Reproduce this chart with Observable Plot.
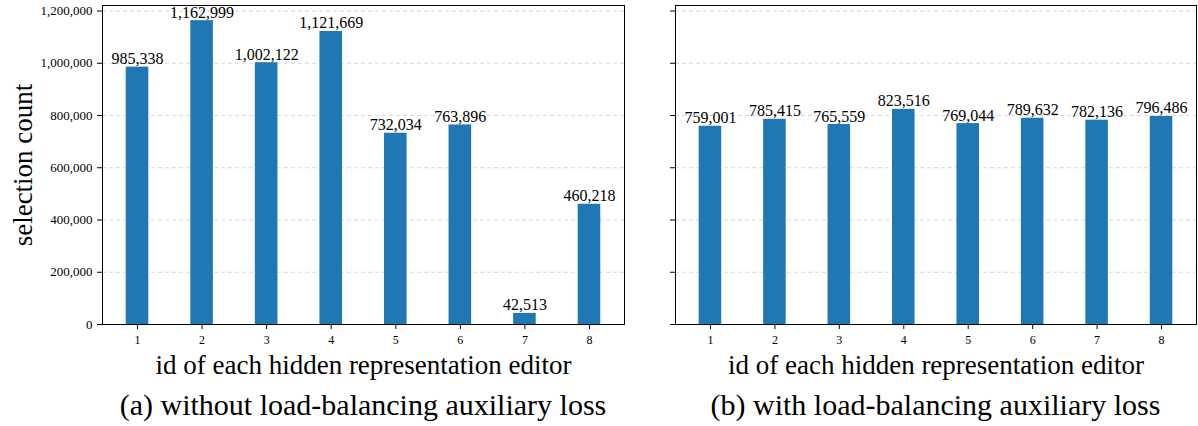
<!DOCTYPE html>
<html><head><meta charset="utf-8">
<script src="https://cdn.jsdelivr.net/npm/d3@7"></script>
<script src="https://cdn.jsdelivr.net/npm/@observablehq/plot@0.6"></script>
<style>
body{margin:0;background:#fff;}
#wrap{position:relative;width:1198px;height:426px;font-family:"Liberation Serif","Times New Roman",serif;overflow:hidden;}
.panel{position:absolute;top:0;}
.cap{position:absolute;top:390px;width:600px;font-size:30px;line-height:30px;text-align:center;white-space:nowrap;color:#000;}
</style></head><body>
<div id="wrap"></div>
<script>
const ids = [1, 2, 3, 4, 5, 6, 7, 8];
const countsWithout = [985338, 1162999, 1002122, 1121669, 732034, 763896, 42513, 460218];
const countsWith = [759001, 785415, 765559, 823516, 769044, 789632, 782136, 796486];
const yTicks = [0, 200000, 400000, 600000, 800000, 1000000, 1200000];
const xLabel = "id of each hidden representation editor";
const yLabel = "selection count";
const captions = ["(a) without load-balancing auxiliary loss", "(b) with load-balancing auxiliary loss"];

const fmt = d3.format(",");
const barHalf = 0.175;
const xPad = (8 + barHalf - (1 - barHalf)) * 0.05;
const xDomain = [1 - barHalf - xPad, 8 + barHalf + xPad];
const yMax = d3.max([...countsWithout, ...countsWith]) * 1.05;

function panel(values, {width, marginLeft, marginRight, showY}) {
  const data = ids.map((id, i) => ({id, count: values[i]}));
  const svg = Plot.plot({
    width, height: 380,
    marginTop: 5, marginBottom: 56, marginLeft, marginRight,
    style: {fontFamily: "'Liberation Serif','Times New Roman',serif", fontSize: "13px", color: "#000", background: "transparent", overflow: "visible"},
    x: {domain: xDomain},
    y: {domain: [0, yMax]},
    marks: [
      Plot.gridY(yTicks, {stroke: "#b8b8b8", strokeOpacity: 0.55, strokeDasharray: "4,3"}),
      Plot.rectY(data, {x1: d => d.id - barHalf, x2: d => d.id + barHalf, y1: 0, y2: "count", fill: "#1f77b4"}),
      Plot.text(data, {x: "id", y: "count", text: d => fmt(d.count), lineAnchor: "bottom", dy: -3, fontSize: 16, fill: "#000"}),
      Plot.axisX(ids, {tickSize: 5, tickPadding: 6, fontSize: 12, label: xLabel, labelAnchor: "center", labelArrow: "none", labelOffset: 49}),
      Plot.axisY(yTicks, {tickSize: 5, tickPadding: 5, fontSize: 13,
        tickFormat: showY ? fmt : () => "",
        label: showY ? yLabel : null, labelAnchor: "center", labelArrow: "none", labelOffset: 90}),
      Plot.frame({stroke: "#000", strokeOpacity: 1})
    ]
  });
  const s = d3.select(svg);
  s.selectAll('g[aria-label="x-axis label"] text').attr("font-size", 27);
  s.select('g[aria-label="x-axis label"]').attr("font-size", 27);
  s.select('g[aria-label="y-axis label"]').attr("font-size", 27);
  s.selectAll('g[aria-label="y-axis label"] text').attr("font-size", 27);
  return svg;
}

const wrap = document.getElementById("wrap");
const left = panel(countsWithout, {width: 640, marginLeft: 102, marginRight: 16, showY: true});
left.classList.add("panel"); left.style.left = "0px";
wrap.appendChild(left);
const right = panel(countsWith, {width: 558, marginLeft: 35, marginRight: 2, showY: false});
right.classList.add("panel"); right.style.left = "640px";
wrap.appendChild(right);

[[captions[0], 363], [captions[1], 935.5]].forEach(([t, cx]) => {
  const d = document.createElement("div");
  d.className = "cap";
  d.style.left = (cx - 300) + "px";
  d.textContent = t;
  wrap.appendChild(d);
});
</script>
</body></html>
